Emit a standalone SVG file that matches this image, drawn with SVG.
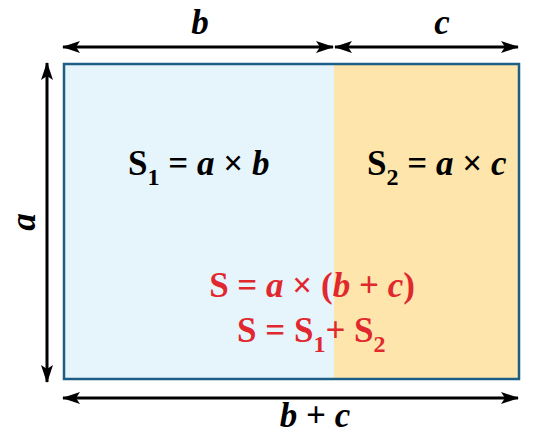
<svg xmlns="http://www.w3.org/2000/svg" width="548" height="434" viewBox="0 0 548 434">
<defs>
<marker id="ah" viewBox="0 0 18 12" refX="17" refY="6" markerWidth="18" markerHeight="12" markerUnits="userSpaceOnUse" orient="auto-start-reverse">
<path d="M0,0 L18,6 L0,12 L4,6 Z" fill="#000"/>
</marker>
</defs>
<g id="rect-b">
<rect x="64" y="64" width="270" height="315" fill="#e6f4fc"/>
</g>
<g id="rect-c">
<rect x="334" y="64" width="185" height="315" fill="#fde5ab"/>
</g>
<rect x="64" y="64" width="455" height="315" fill="none" stroke="#1c5e85" stroke-width="2.5"/>
<g id="connectors" stroke="#000" stroke-width="3" fill="none" marker-start="url(#ah)" marker-end="url(#ah)">
<line x1="63" y1="47" x2="333" y2="47"/>
<line x1="335" y1="47" x2="518" y2="47"/>
<line x1="63" y1="398" x2="518" y2="398"/>
<line x1="47" y1="63" x2="47" y2="382"/>
</g>
<g id="labels">
<text font-family="Times New Roman, serif" font-weight="bold" font-style="italic" font-size="35" fill="#000" x="200" y="34" text-anchor="middle">b</text>
<text font-family="Times New Roman, serif" font-weight="bold" font-style="italic" font-size="35" fill="#000" x="442" y="34" text-anchor="middle">c</text>
<text font-family="Times New Roman, serif" font-weight="bold" font-style="italic" font-size="35" fill="#000" x="315" y="427" text-anchor="middle">b <tspan font-style="normal">+</tspan> c</text>
<text font-family="Times New Roman, serif" font-weight="bold" font-style="italic" font-size="35" fill="#000" transform="translate(35,222) rotate(-90)" text-anchor="middle">a</text>
</g>
<g id="s1">
<text font-family="Times New Roman, serif" font-weight="bold" font-size="35" fill="#000" x="128" y="175">S<tspan font-size="24" dy="10">1</tspan><tspan dy="-10"> = </tspan><tspan font-style="italic">a</tspan> &#215; <tspan font-style="italic">b</tspan></text>
</g>
<g id="s2">
<text font-family="Times New Roman, serif" font-weight="bold" font-size="35" fill="#000" x="367" y="175">S<tspan font-size="24" dy="10">2</tspan><tspan dy="-10"> = </tspan><tspan font-style="italic">a</tspan> &#215; <tspan font-style="italic">c</tspan></text>
</g>
<g id="formula">
<text font-family="Times New Roman, serif" font-weight="bold" font-size="35" fill="#e0282e" x="312" y="297" text-anchor="middle">S = <tspan font-style="italic">a</tspan> &#215; (<tspan font-style="italic">b</tspan> + <tspan font-style="italic">c</tspan>)</text>
<text font-family="Times New Roman, serif" font-weight="bold" font-size="35" fill="#e0282e" x="237" y="342">S = S<tspan font-size="24" dy="10">1</tspan><tspan dy="-10">+ S</tspan><tspan font-size="24" dy="10">2</tspan></text>
</g>
</svg>
